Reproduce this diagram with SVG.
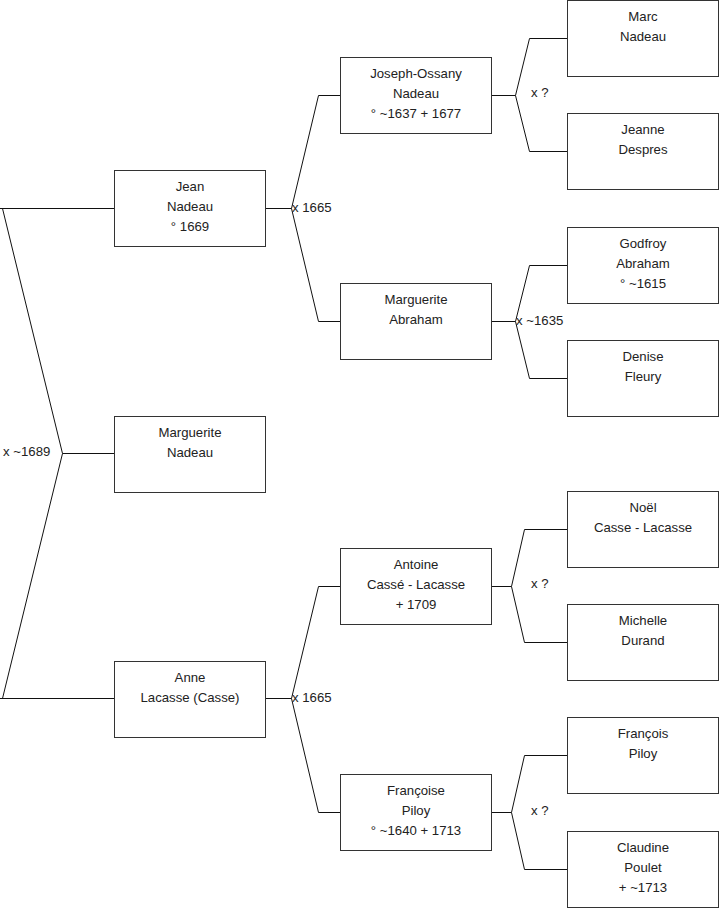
<svg xmlns="http://www.w3.org/2000/svg" width="719" height="908" viewBox="0 0 719 908">
<style>
.box{fill:#fff;stroke:#333;stroke-width:1}
.t{font-family:"Liberation Sans",Arial,sans-serif;font-size:13.2px;fill:#222;text-anchor:middle}
.l{font-family:"Liberation Sans",Arial,sans-serif;font-size:13.2px;fill:#222}
.c{fill:none;stroke:#111;stroke-width:1}
</style>
<rect width="719" height="908" fill="#fff"/>
<g id="connectors">
<path class="c" d="M0,208.5H114.5M2.5,208.5L62.5,453.5L2.5,698.5M62.5,453.5H114.5M0,698.5H114.5"/>
<path class="c" d="M265.5,208.5H291.5L318.5,95.5H340.5M291.5,208.5L318.5,321.5H340.5"/>
<path class="c" d="M265.5,698.5H291.5L318.5,586.5H340.5M291.5,698.5L318.5,812.5H340.5"/>
<path class="c" d="M491.5,95.5H515.5L529.5,38.5H567.5M515.5,95.5L529.5,151.5H567.5"/>
<path class="c" d="M491.5,321.5H515.5L529.5,265.5H567.5M515.5,321.5L529.5,378.5H567.5"/>
<path class="c" d="M491.5,586.5H511.5L524.5,529.5H567.5M511.5,586.5L524.5,642.5H567.5"/>
<path class="c" d="M491.5,812.5H511.5L524.5,755.5H567.5M511.5,812.5L524.5,869.5H567.5"/>
<text class="l" x="3" y="456">x ~1689</text>
<text class="l" x="292" y="212">x 1665</text>
<text class="l" x="292" y="702">x 1665</text>
<text class="l" x="531" y="97">x ?</text>
<text class="l" x="516" y="325">x ~1635</text>
<text class="l" x="531" y="588">x ?</text>
<text class="l" x="531" y="815">x ?</text>
</g>
<g id="jean"><rect class="box" x="114.5" y="170.5" width="151" height="76"/><text class="t" x="190" y="191">Jean</text><text class="t" x="190" y="211">Nadeau</text><text class="t" x="190" y="231">° 1669</text></g>
<g id="marguerite-nadeau"><rect class="box" x="114.5" y="416.5" width="151" height="76"/><text class="t" x="190" y="437">Marguerite</text><text class="t" x="190" y="457">Nadeau</text></g>
<g id="anne"><rect class="box" x="114.5" y="661.5" width="151" height="76"/><text class="t" x="190" y="682">Anne</text><text class="t" x="190" y="702">Lacasse (Casse)</text></g>
<g id="joseph"><rect class="box" x="340.5" y="57.5" width="151" height="76"/><text class="t" x="416" y="78">Joseph-Ossany</text><text class="t" x="416" y="98">Nadeau</text><text class="t" x="416" y="118">° ~1637 + 1677</text></g>
<g id="marguerite-abraham"><rect class="box" x="340.5" y="283.5" width="151" height="76"/><text class="t" x="416" y="304">Marguerite</text><text class="t" x="416" y="324">Abraham</text></g>
<g id="antoine"><rect class="box" x="340.5" y="548.5" width="151" height="76"/><text class="t" x="416" y="569">Antoine</text><text class="t" x="416" y="589">Cassé - Lacasse</text><text class="t" x="416" y="609">+ 1709</text></g>
<g id="francoise"><rect class="box" x="340.5" y="774.5" width="151" height="76"/><text class="t" x="416" y="795">Françoise</text><text class="t" x="416" y="815">Piloy</text><text class="t" x="416" y="835">° ~1640 + 1713</text></g>
<g id="marc"><rect class="box" x="567.5" y="0.5" width="151" height="76"/><text class="t" x="643" y="21">Marc</text><text class="t" x="643" y="41">Nadeau</text></g>
<g id="jeanne"><rect class="box" x="567.5" y="113.5" width="151" height="76"/><text class="t" x="643" y="134">Jeanne</text><text class="t" x="643" y="154">Despres</text></g>
<g id="godfroy"><rect class="box" x="567.5" y="227.5" width="151" height="76"/><text class="t" x="643" y="248">Godfroy</text><text class="t" x="643" y="268">Abraham</text><text class="t" x="643" y="288">° ~1615</text></g>
<g id="denise"><rect class="box" x="567.5" y="340.5" width="151" height="76"/><text class="t" x="643" y="361">Denise</text><text class="t" x="643" y="381">Fleury</text></g>
<g id="noel"><rect class="box" x="567.5" y="491.5" width="151" height="76"/><text class="t" x="643" y="512">Noël</text><text class="t" x="643" y="532">Casse - Lacasse</text></g>
<g id="michelle"><rect class="box" x="567.5" y="604.5" width="151" height="76"/><text class="t" x="643" y="625">Michelle</text><text class="t" x="643" y="645">Durand</text></g>
<g id="francois"><rect class="box" x="567.5" y="717.5" width="151" height="76"/><text class="t" x="643" y="738">François</text><text class="t" x="643" y="758">Piloy</text></g>
<g id="claudine"><rect class="box" x="567.5" y="831.5" width="151" height="76"/><text class="t" x="643" y="852">Claudine</text><text class="t" x="643" y="872">Poulet</text><text class="t" x="643" y="892">+ ~1713</text></g>
</svg>
